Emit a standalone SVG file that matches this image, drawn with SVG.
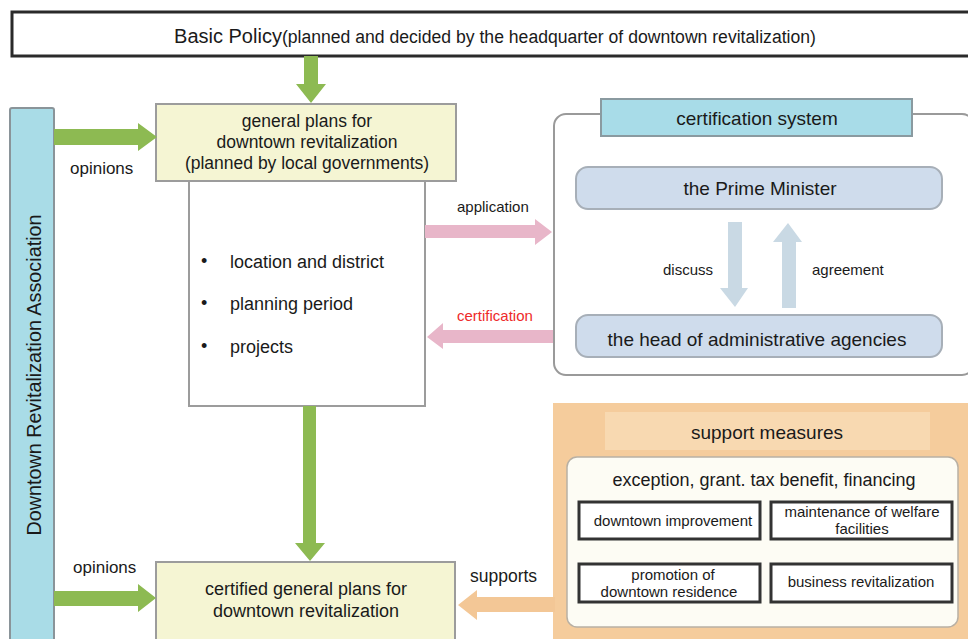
<svg xmlns="http://www.w3.org/2000/svg" width="968" height="639" viewBox="0 0 968 639">
<style>
text{font-family:"Liberation Sans",Arial,sans-serif;fill:#1a1a1a}
.c{text-anchor:middle}
.t17{font-size:17.5px}
.t18{font-size:18px}
.t19{font-size:19px}
.t15{font-size:15px}
.lab{font-size:15px}
.green{fill:#8dba52}
.pink{fill:#e8b6c9}
.orange{fill:#f3c796}
.blu{fill:#c9d9e4}
.yel{fill:#f5f5d3;stroke:#9c9c9c;stroke-width:2}
.pm{fill:#cfdcec;stroke:#a7afb8;stroke-width:2}
.sb{fill:#fff;stroke:#333;stroke-width:3}
</style>
<rect width="968" height="639" fill="#fff"/>
<g id="basic-policy">
<rect x="12" y="12" width="960" height="44" fill="#fff" stroke="#2a2a2a" stroke-width="3"/>
<text x="495" y="43" class="c"><tspan font-size="20">Basic Policy</tspan><tspan font-size="17.6">(planned and decided by the headquarter of downtown revitalization)</tspan></text>
</g>
<g id="association">
<rect x="10" y="108" width="44" height="540" rx="2" fill="#a9dce7" stroke="#8a9499" stroke-width="2"/>
<text transform="translate(41,375) rotate(-90)" class="c" font-size="19.8">Downtown Revitalization Association</text>
</g>
<g id="general-plans">
<rect x="189" y="180" width="236" height="226" fill="#fff" stroke="#9c9c9c" stroke-width="2"/>
<rect x="156" y="104" width="300" height="77" class="yel"/>
<text x="307" y="127" class="c t17">general plans for</text>
<text x="307" y="148" class="c t17">downtown revitalization</text>
<text x="307" y="169" class="c t17">(planned by local governments)</text>
<text x="201" y="267" class="t18">•</text>
<text x="230" y="268" class="t18">location and district</text>
<text x="201" y="309" class="t18">•</text>
<text x="230" y="310" class="t18">planning period</text>
<text x="201" y="352" class="t18">•</text>
<text x="230" y="353" class="t18">projects</text>
</g>
<g id="certification-system">
<rect x="554" y="114" width="420" height="261" rx="12" fill="#fff" stroke="#9a9a9a" stroke-width="2"/>
<rect x="601" y="99" width="311" height="37" fill="#a8dce8" stroke="#8a9aa0" stroke-width="2"/>
<text x="757" y="125" class="c t19">certification system</text>
<rect x="576" y="167" width="366" height="42" rx="12" class="pm"/>
<text x="760" y="195" class="c t19">the Prime Minister</text>
<rect x="576" y="315" width="366" height="42" rx="12" class="pm"/>
<text x="757" y="346" class="c t19">the head of administrative agencies</text>
<text x="663" y="275" class="lab">discuss</text>
<text x="812" y="275" class="lab">agreement</text>
</g>
<g id="support-measures">
<rect x="553" y="403" width="420" height="245" fill="#f5cc9c"/>
<rect x="605" y="412" width="325" height="38" fill="#f8d9b1"/>
<text x="767" y="439" class="c t19">support measures</text>
<rect x="567" y="457" width="391" height="170" rx="10" fill="#fdfcf4" stroke="#b8b0a4" stroke-width="1.5"/>
<text x="764" y="486" class="c t18">exception, grant. tax benefit, financing</text>
<rect x="579" y="502" width="181" height="37" class="sb"/>
<text x="673" y="526" class="c t15">downtown improvement</text>
<rect x="771" y="502" width="181" height="37" class="sb"/>
<text x="862" y="517" class="c t15">maintenance of welfare</text>
<text x="862" y="534" class="c t15">facilities</text>
<rect x="579" y="564" width="181" height="38" class="sb"/>
<text x="673" y="580" class="c t15">promotion of</text>
<text x="669" y="597" class="c t15">downtown residence</text>
<rect x="771" y="564" width="181" height="38" class="sb"/>
<text x="861" y="587" class="c t15">business revitalization</text>
</g>
<g id="certified-plans">
<rect x="156" y="562" width="299" height="90" class="yel"/>
<text x="306" y="595" class="c t18">certified general plans for</text>
<text x="306" y="617" class="c t18">downtown revitalization</text>
</g>
<g id="connectors">
<polygon class="green" points="304,56 318,56 318,84 326,84 311,103 296,84 304,84"/>
<polygon class="green" points="54,129 138,129 138,123 157,137 138,151 138,145 54,145"/>
<polygon class="green" points="54,591 138,591 138,584 156,598 138,612 138,606 54,606"/>
<polygon class="green" points="303,406 316,406 316,543 325,543 310,561 295,543 303,543"/>
<polygon class="pink" points="425,225 535,225 535,219 552,232 535,245 535,238 425,238"/>
<polygon class="pink" points="553,330 443,330 443,323 427,337 443,349 443,343 553,343"/>
<polygon class="orange" points="555,597 477,597 477,590 458,605 477,620 477,612 555,612"/>
<polygon class="blu" points="728,222 742,222 742,288 748,288 735,307 720,288 728,288"/>
<polygon class="blu" points="782,308 796,308 796,242 802,242 788,223 773,242 782,242"/>
<text x="457" y="212" class="lab">application</text>
<text x="457" y="321" class="lab" style="fill:#ee2a2a">certification</text>
<text x="70" y="174" font-size="17">opinions</text>
<text x="73" y="573" font-size="17">opinions</text>
<text x="470" y="582" font-size="17.5">supports</text>
</g>
</svg>
